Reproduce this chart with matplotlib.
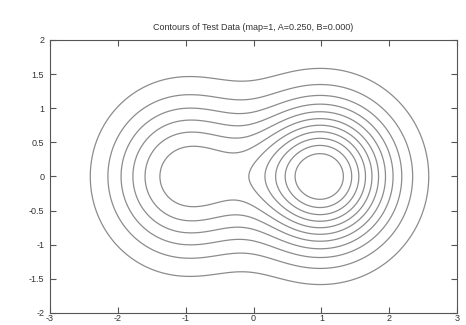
import matplotlib
matplotlib.use("Agg")
import matplotlib.pyplot as plt
import numpy as np

plt.rcParams['font.family'] = ['Liberation Sans', 'DejaVu Sans']
plt.rcParams['axes.unicode_minus'] = False

# test data: two bumps
bump_x = [1.0, -1.0]
bump_y = [0.0, 0.0]
bump_height = [1.0, 0.54]
bump_sx = [1.0, 1.12]     # spread along x
bump_sy = [1.0, 1.2]      # spread along y
bump_p = [1.0, 1.12]      # flatness of the top

# contour levels
levels = [0.082, 0.164, 0.246, 0.328, 0.41, 0.492, 0.574, 0.656, 0.738, 0.82, 0.902]

xticks = [-3, -2, -1, 0, 1, 2, 3]
yticks = [-2, -1.5, -1, -0.5, 0, 0.5, 1, 1.5, 2]
ytick_labels = ["-2", "-1.5", "-1", "-0.5", "0", "0.5", "1", "1.5", "2"]

x = np.linspace(-3, 3, 301)
y = np.linspace(-2, 2, 201)
X, Y = np.meshgrid(x, y)
Z = np.zeros_like(X)
for cx, cy, h, sx, sy, p in zip(bump_x, bump_y, bump_height, bump_sx, bump_sy, bump_p):
    q = (X - cx)**2 / sx + (Y - cy)**2 / sy
    Z += h * np.exp(-q**p)

fig = plt.figure(figsize=(4.66, 3.25), dpi=100)
fig.patch.set_facecolor("white")
ax = fig.add_axes([0.107, 0.037, 0.874, 0.84])

ax.contour(X, Y, Z, levels=levels, colors="#8c8c8c", linewidths=0.9)

ax.set_xlim(-3, 3)
ax.set_ylim(-2, 2)
ax.set_xticks(xticks)
ax.set_xticklabels([str(t) for t in xticks])
ax.set_yticks(yticks)
ax.set_yticklabels(ytick_labels)
ax.tick_params(direction="in", length=4, width=0.8, color="#555555",
               top=True, right=True, labelsize=6.5, labelcolor="#333333", pad=4)
ax.tick_params(axis="x", pad=1)
for sp in ax.spines.values():
    sp.set_color("#555555")
    sp.set_linewidth(0.8)

ax.set_title("Contours of Test Data (map=1, A=0.250, B=0.000)",
             fontsize=6.5, color="#333333", pad=7)

fig.savefig("out.png", dpi=100)
